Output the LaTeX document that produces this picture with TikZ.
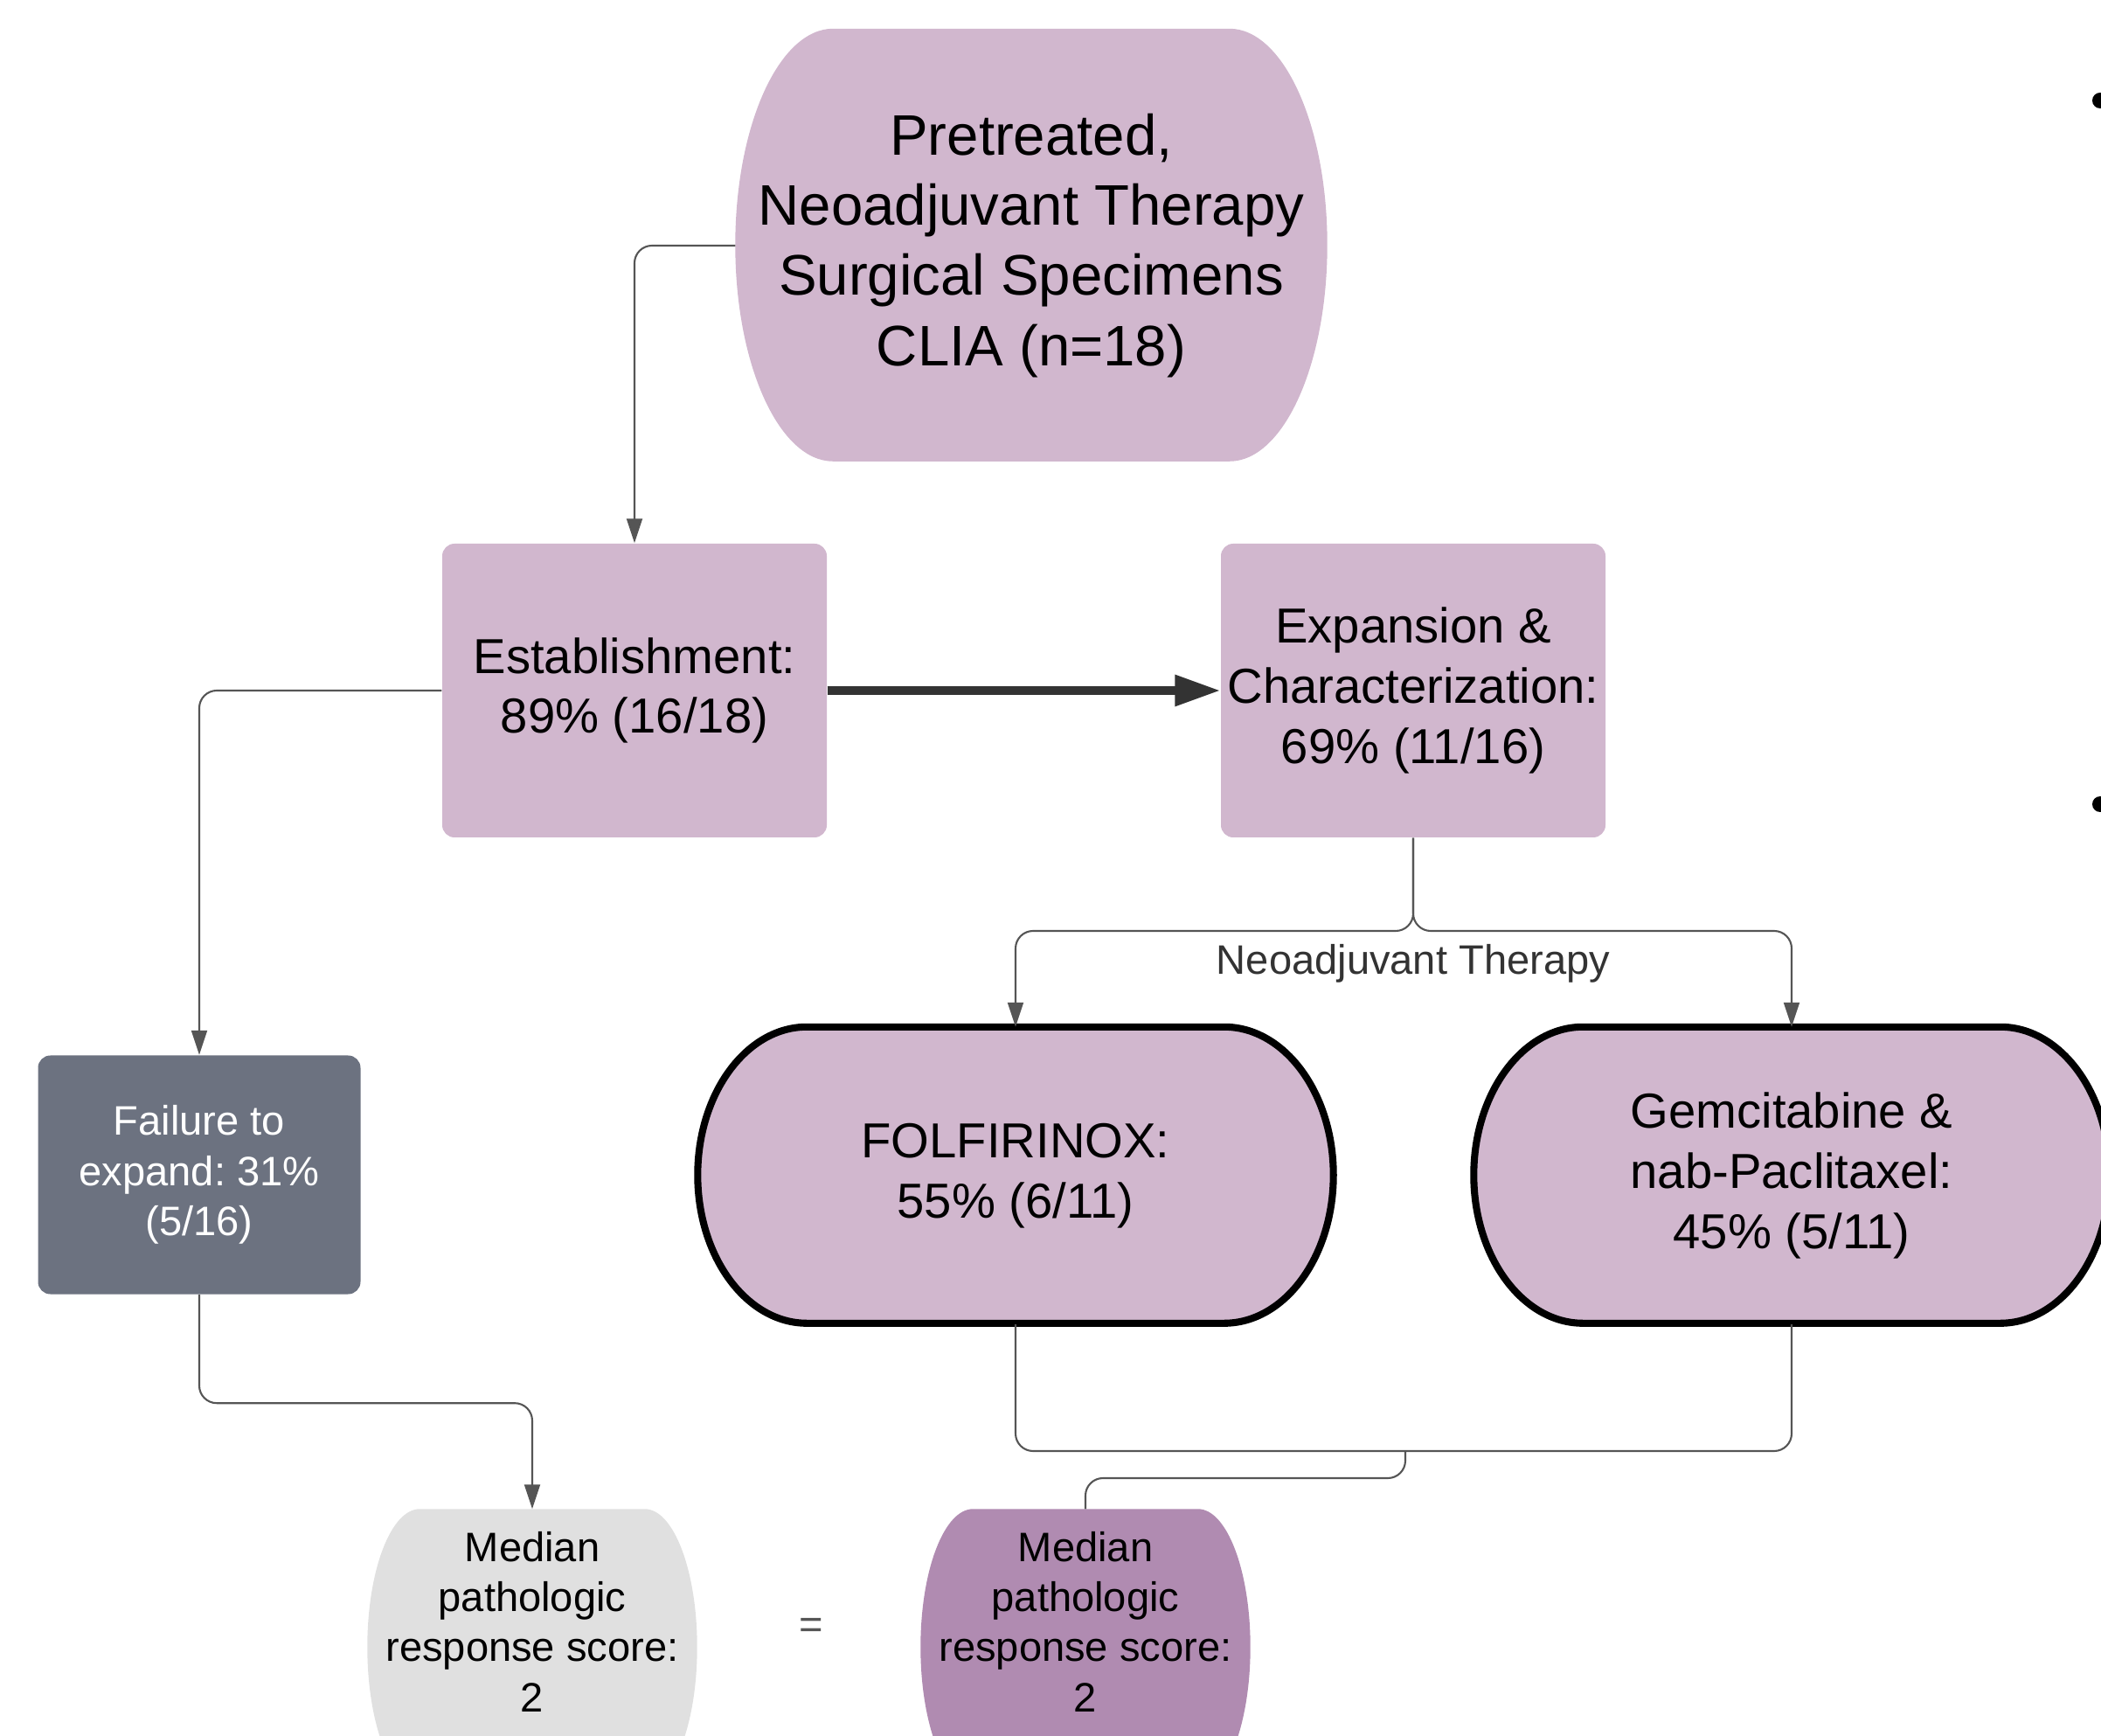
\documentclass[tikz,border=0pt]{standalone}
\usepackage{fontspec}
\setmainfont{Liberation Sans}
\usepackage{tikz}
\usetikzlibrary{arrows.meta,backgrounds}
\frenchspacing

\definecolor{mauve}{RGB}{209,183,206}
\definecolor{darkmauve}{RGB}{176,139,177}
\definecolor{slate}{RGB}{108,114,128}
\definecolor{lightgrey}{RGB}{224,224,224}
\definecolor{wire}{RGB}{85,85,85}
\definecolor{ink}{RGB}{51,51,51}

\tikzset{
  bigtext/.style={font=\fontsize{18.6}{22.8}\selectfont},
  midtext/.style={font=\fontsize{16}{19.6}\selectfont},
  smalltext/.style={font=\fontsize{13.4}{16.3}\selectfont},
  stagebox/.style={rectangle, rounded corners=4pt, fill=mauve, midtext, align=center,
    minimum width=4.4cm, minimum height=3.36cm, inner sep=0pt},
  plain/.style={align=center, inner sep=0pt},
  link/.style={draw=wire, line width=0.6pt, rounded corners=0.2cm,
    -{Triangle[length=0.28cm,width=0.18cm]}},
  wire/.style={draw=wire, line width=0.6pt, rounded corners=0.2cm},
}

% barrel shape behind a text node: node, x radius, y radius
\newcommand{\capsule}[4][]{%
  \path[#1] ([xshift=#3]#2.north west) -- ([xshift=-#3]#2.north east)
    arc[start angle=90, end angle=-90, x radius=#3, y radius=#4]
    -- ([xshift=#3,yshift=-2*#4]#2.north west)
    arc[start angle=270, end angle=90, x radius=#3, y radius=#4] -- cycle;}

\begin{document}
\begin{tikzpicture}
  \useasboundingbox (0,0) rectangle (24.04,19.85);
  \clip (0,0) rectangle (24.04,19.85);

  % nodes
  \node[plain, bigtext, minimum width=6.76cm, minimum height=4.95cm] (pre) at (11.80,17.04)
    {Pretreated,\\Neoadjuvant Therapy\\Surgical Specimens\\CLIA (n=18)};
  \node[stagebox] (est) at (7.26,11.95) {Establishment:\\89\% (16/18)};
  \node[stagebox] (exp) at (16.17,11.95) {Expansion \&\\Characterization:\\69\% (11/16)};
  \node[stagebox, fill=slate, text=white, smalltext, minimum width=3.69cm,
    minimum height=2.73cm] (fail) at (2.28,6.41) {Failure to\\expand: 31\%\\(5/16)};
  \node[plain, midtext, minimum width=7.26cm, minimum height=3.39cm] (folf) at (11.62,6.40)
    {FOLFIRINOX:\\55\% (6/11)};
  \node[plain, midtext, minimum width=7.26cm, minimum height=3.39cm] (gem) at (20.50,6.40)
    {Gemcitabine \&\\nab-Paclitaxel:\\45\% (5/11)};
  \node[plain, smalltext, minimum width=3.76cm, minimum height=2.56cm] (med1) at (6.09,1.30)
    {Median\\pathologic\\response score:\\2};
  \node[plain, smalltext, minimum width=3.76cm, minimum height=2.56cm] (med2) at (12.42,1.30)
    {Median\\pathologic\\response score:\\2};
  \node[plain, smalltext, text=wire] (eq) at (9.28,1.22) {=};
  \node[plain, smalltext, text=ink] (neo) at (16.17,8.83) {Neoadjuvant Therapy};

  % shapes behind the text
  \begin{scope}[on background layer]
    \capsule[fill=mauve]{pre}{1.12cm}{2.475cm}
    \capsule[fill=mauve, draw=black, line width=2.3pt]{folf}{1.25cm}{1.695cm}
    \capsule[fill=mauve, draw=black, line width=2.3pt]{gem}{1.25cm}{1.695cm}
    \capsule[fill=lightgrey]{med1}{0.6cm}{1.58cm}
    \capsule[fill=darkmauve]{med2}{0.6cm}{1.58cm}
  \end{scope}

  % connectors
  \coordinate (split) at (16.17,9.20);
  \coordinate (join) at (16.08,3.25);
  \draw[link] (pre.west) -| (est.north);
  \draw[draw=ink, line width=2.6pt, -{Triangle[length=0.52cm,width=0.34cm]}] (est.east) -- (exp.west);
  \draw[link] (est.west) -| (fail.north);
  \draw[link] (exp.south) -- (split) -| (folf.north);
  \draw[link] (exp.south) -- (split) -| (gem.north);
  \draw[wire] (folf.south) |- (join) -| (gem.south);
  \draw[wire] (join) -- ++(0,-0.31) -| (med2.north);
  \draw[link] (fail.south) -- ++(0,-1.24) -| (med1.north);

  % bullets cut off at the right edge
  \fill (24.03,18.70) circle (0.09);
  \fill (24.03,10.65) circle (0.09);
\end{tikzpicture}
\end{document}
